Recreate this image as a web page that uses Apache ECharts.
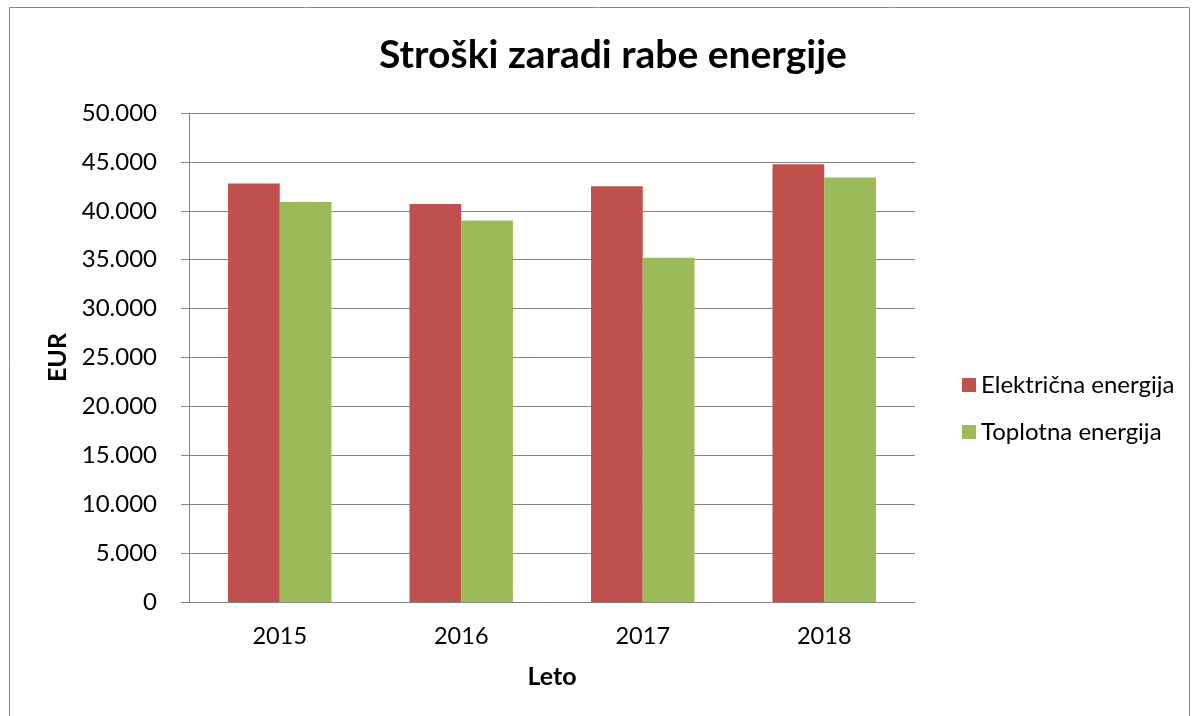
<!DOCTYPE html>
<html>
<head>
<meta charset="utf-8">
<script src="https://cdn.jsdelivr.net/npm/echarts@6/dist/echarts.min.js"></script>
<style>
html,body{margin:0;padding:0;background:#fff;}
#chart{width:1195px;height:716px;}
</style>
</head>
<body>
<div id="chart"></div>
<script>
const years = ['2015', '2016', '2017', '2018'];
const elektricna = [42800, 40700, 42500, 44750];
const toplotna = [40900, 39000, 35200, 43400];
const seriesNames = ['Električna energija', 'Toplotna energija'];
const FONT = 'Lato';

const chart = echarts.init(document.getElementById('chart'));
chart.setOption({
  animation: false,
  backgroundColor: '#fff',
  graphic: [{
    type: 'rect', silent: true,
    shape: { x: 9.5, y: 7.5, width: 1180, height: 730 },
    style: { fill: 'none', stroke: '#8a8a8a', lineWidth: 1 }
  }],
  title: {
    text: 'Stroški zaradi rabe energije',
    left: 608, top: 31, textAlign: 'center',
    textStyle: { fontFamily: FONT, fontSize: 39, fontWeight: 'bold', color: '#000' }
  },
  legend: {
    orient: 'vertical',
    left: 957, top: 368,
    itemWidth: 14, itemHeight: 14, itemGap: 23,
    icon: 'rect',
    textStyle: { fontFamily: FONT, fontSize: 24, color: '#000' },
    data: seriesNames
  },
  grid: { left: 189, right: 280, top: 113, bottom: 114 },
  xAxis: {
    type: 'category',
    data: years,
    name: 'Leto',
    nameLocation: 'middle',
    nameGap: 62,
    nameTextStyle: { fontFamily: FONT, fontSize: 25, fontWeight: 'bold', color: '#000' },
    axisLine: { lineStyle: { color: '#868686', width: 1 } },
    axisTick: { show: false },
    axisLabel: { fontFamily: FONT, fontSize: 23.5, color: '#000', margin: 22 }
  },
  yAxis: {
    type: 'value',
    min: 0, max: 50000, interval: 5000,
    name: 'EUR',
    nameLocation: 'middle',
    nameGap: 119,
    nameTextStyle: { fontFamily: FONT, fontSize: 25, fontWeight: 'bold', color: '#000' },
    axisLine: { show: true, lineStyle: { color: '#868686', width: 1 } },
    axisTick: { show: true, length: 8, lineStyle: { color: '#868686' } },
    splitLine: { lineStyle: { color: '#868686', width: 1 } },
    axisLabel: {
      fontFamily: FONT, fontSize: 24, color: '#000', margin: 32,
      formatter: v => v === 0 ? '0' : v.toLocaleString('de-DE')
    }
  },
  series: [
    { name: seriesNames[0], type: 'bar', data: elektricna, barGap: '0%', barCategoryGap: '43%',
      itemStyle: { color: '#C0504D' } },
    { name: seriesNames[1], type: 'bar', data: toplotna, barGap: '0%', barCategoryGap: '43%',
      itemStyle: { color: '#9BBB59' } }
  ]
});
</script>
</body>
</html>
